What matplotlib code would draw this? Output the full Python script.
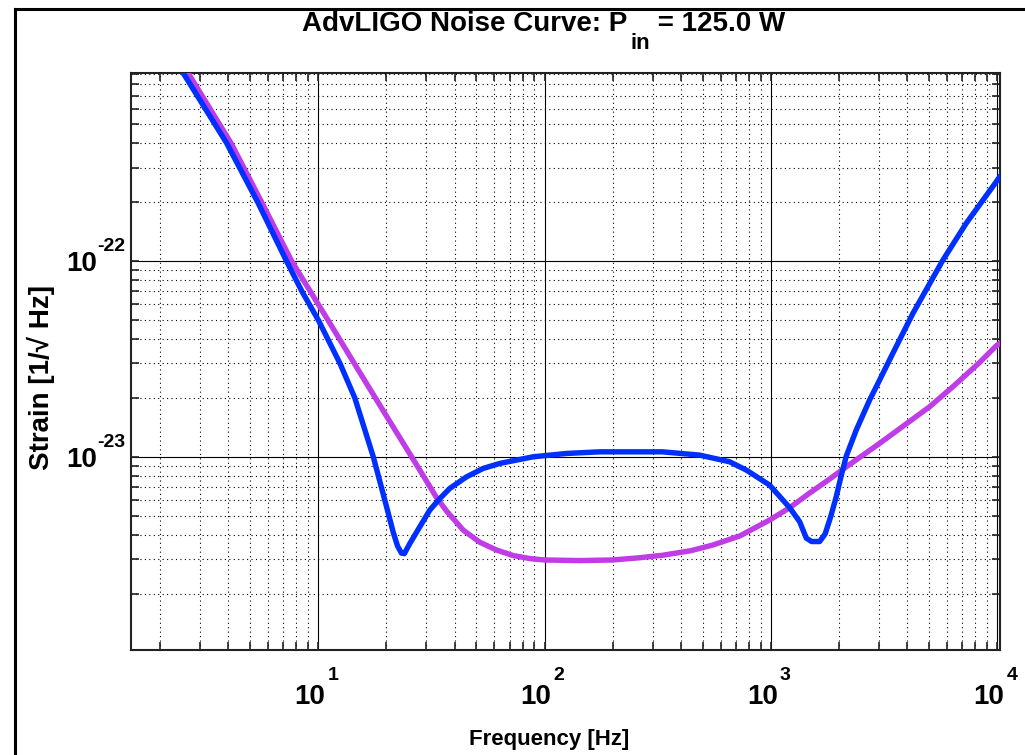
import numpy as np
import matplotlib
matplotlib.use('Agg')
import matplotlib.pyplot as plt
from matplotlib.ticker import FixedLocator, NullFormatter
from matplotlib.lines import Line2D
from matplotlib.transforms import offset_copy

plt.rcParams['font.family'] = ['Liberation Sans', 'DejaVu Sans']
plt.rcParams['font.weight'] = 'bold'
plt.rcParams['axes.unicode_minus'] = False

# ---- data ----
blue_f = [2.3, 2.53, 3.94, 5.40, 7.24, 8.47, 10.0, 12.47, 14.5, 17.5, 19.36, 20.37, 21.43,
          22.4, 23.3, 24.0, 25.4, 28.1, 31.1, 34.5, 38.1, 45.2, 53.5, 63.4, 89.0, 125, 175,
          332, 484, 657, 779, 986, 1209, 1339, 1433, 1512, 1641, 1735, 1834, 1941, 2042,
          2153, 2382, 2728, 2920, 3456, 4236, 5746, 7290, 9888, 10300]
blue_h = [1.1e-21, 9.14e-22, 4.0e-22, 2.0e-22, 1.0e-22, 7.0e-23, 5.0e-23, 3.0e-23, 2.0e-23,
          1.0e-23, 6.45e-24, 5.16e-24, 4.12e-24, 3.5e-24, 3.22e-24, 3.2e-24, 3.61e-24,
          4.39e-24, 5.34e-24, 6.13e-24, 6.89e-24, 7.9e-24, 8.72e-24, 9.25e-24, 1.0e-23,
          1.04e-23, 1.06e-23, 1.06e-23, 1.02e-23, 9.43e-24, 8.55e-24, 7.17e-24, 5.5e-24,
          4.66e-24, 3.84e-24, 3.69e-24, 3.69e-24, 4.03e-24, 4.92e-24, 6.22e-24, 7.97e-24,
          1.01e-23, 1.37e-23, 1.95e-23, 2.28e-23, 3.38e-23, 5.4e-23, 1.01e-22, 1.56e-22,
          2.54e-22, 2.72e-22]

purple_f = [2.45, 2.66, 4.12, 5.62, 7.63, 9.22, 11.03, 14.42, 17.87, 21.43, 25.85, 29.59,
            33.3, 36.9, 43.7, 51.7, 61.3, 72.6, 86.0, 100, 143, 200, 263, 332, 441, 553,
            728, 986, 1209, 1480, 1815, 2153, 3018, 5018, 6471, 8345, 9920, 10300]
purple_h = [1.07e-21, 9.14e-22, 4.0e-22, 2.0e-22, 1.0e-22, 7.0e-23, 5.0e-23, 3.0e-23,
            2.0e-23, 1.42e-23, 1.0e-23, 7.75e-24, 6.19e-24, 5.28e-24, 4.22e-24, 3.66e-24,
            3.34e-24, 3.13e-24, 3.02e-24, 2.97e-24, 2.95e-24, 2.97e-24, 3.05e-24, 3.14e-24,
            3.31e-24, 3.54e-24, 3.94e-24, 4.75e-24, 5.49e-24, 6.52e-24, 7.69e-24, 8.89e-24,
            1.17e-23, 1.8e-23, 2.32e-23, 3.03e-23, 3.7e-23, 3.81e-23]

x_major = [1e1, 1e2, 1e3, 1e4]
x_exp = ['1', '2', '3', '4']
y_major = [1e-23, 1e-22]
y_exp = ['-23', '-22']
title_main = "AdvLIGO Noise Curve: P"
title_sub = "in"
title_tail = " = 125.0 W"
xlabel = "Frequency [Hz]"
ylabel = "Strain [1/\u221a Hz]"

W, H = 1025, 755
fig = plt.figure(figsize=(W / 100, H / 100), dpi=100)
ax = fig.add_axes([131 / W, 1 - 650 / H, (1000 - 131) / W, (650 - 73) / H])

ax.plot(purple_f, purple_h, color='#c03ce6', lw=3.9, solid_capstyle='round',
        solid_joinstyle='round', zorder=3)
ax.plot(blue_f, blue_h, color='#0030ff', lw=3.9, solid_capstyle='round',
        solid_joinstyle='round', zorder=4)

ax.set_xscale('log')
ax.set_yscale('log')
ax.set_xlim(1.488, 1.028e4)
ax.set_ylim(1.03e-24, 9.14e-22)

xminor = [m * 10.0 ** e for e in range(0, 4) for m in range(2, 10)]
yminor = [m * 10.0 ** e for e in range(-24, -21) for m in range(2, 10)]
ax.xaxis.set_major_locator(FixedLocator(x_major))
ax.yaxis.set_major_locator(FixedLocator(y_major))
ax.xaxis.set_minor_locator(FixedLocator(xminor))
ax.yaxis.set_minor_locator(FixedLocator(yminor))
ax.xaxis.set_minor_formatter(NullFormatter())
ax.yaxis.set_minor_formatter(NullFormatter())

ax.grid(True, which='major', color='black', lw=0.8, ls='-', zorder=1)
ax.grid(True, which='minor', color='black', lw=0.8, ls=(0, (1, 3)), zorder=1)
ax.set_axisbelow(True)

ax.tick_params(which='both', direction='in', top=True, right=True, length=6, width=1.2,
               color='#222222', labelbottom=False, labelleft=False)
for sp in ax.spines.values():
    sp.set_linewidth(1.5)
    sp.set_color('#222222')

# tick labels in the "10 with raised exponent" style
xt = ax.get_xaxis_transform()
for v, e in zip(x_major, x_exp):
    ax.text(v, 0, "10", transform=offset_copy(xt, x=7, y=-54, units='dots'),
            ha='right', va='baseline', fontsize=20, fontweight='bold', clip_on=False)
    ax.text(v, 0, e, transform=offset_copy(xt, x=9, y=-30, units='dots'),
            ha='left', va='baseline', fontsize=14, fontweight='bold', clip_on=False)
yt = ax.get_yaxis_transform()
for v, e in zip(y_major, y_exp):
    ax.text(0, v, "10", transform=offset_copy(yt, x=-34, y=-10, units='dots'),
            ha='right', va='baseline', fontsize=20, fontweight='bold', clip_on=False)
    ax.text(0, v, e, transform=offset_copy(yt, x=-34, y=10, units='dots'),
            ha='left', va='baseline', fontsize=14, fontweight='bold', clip_on=False)

fig.text(549 / W, 1 - 740 / H, xlabel, ha='center', va='center', fontsize=16, fontweight='bold')
fig.text(41 / W, 1 - 378 / H, ylabel, ha='center', va='center', rotation=90, fontsize=20,
         fontweight='bold')

# figure frame lines (left and top)
fig.add_artist(Line2D([15 / W, 15 / W], [0, 1 - 9 / H], color='black', lw=2.2,
                      transform=fig.transFigure))
fig.add_artist(Line2D([15 / W, 1], [1 - 9 / H, 1 - 9 / H], color='black', lw=2.2,
                      transform=fig.transFigure))

# title with lowered subscript
fig.canvas.draw()
r = fig.canvas.get_renderer()
fs = 20
t1 = fig.text(0, 0, title_main, fontsize=fs, fontweight='bold', ha='left', va='baseline')
t2 = fig.text(0, 0, title_sub, fontsize=fs * 0.8, fontweight='bold', ha='left', va='baseline')
t3 = fig.text(0, 0, title_tail, fontsize=fs, fontweight='bold', ha='left', va='baseline')
w1 = t1.get_window_extent(r).width
w2 = t2.get_window_extent(r).width
w3 = t3.get_window_extent(r).width
gap = 3
total = w1 + gap + w2 + w3
x0 = 544 - total / 2
base = 31
t1.set_position((x0 / W, 1 - base / H))
t2.set_position(((x0 + w1 + gap) / W, 1 - (base + 18) / H))
t3.set_position(((x0 + w1 + gap + w2) / W, 1 - base / H))

fig.savefig('out.png', dpi=100)
